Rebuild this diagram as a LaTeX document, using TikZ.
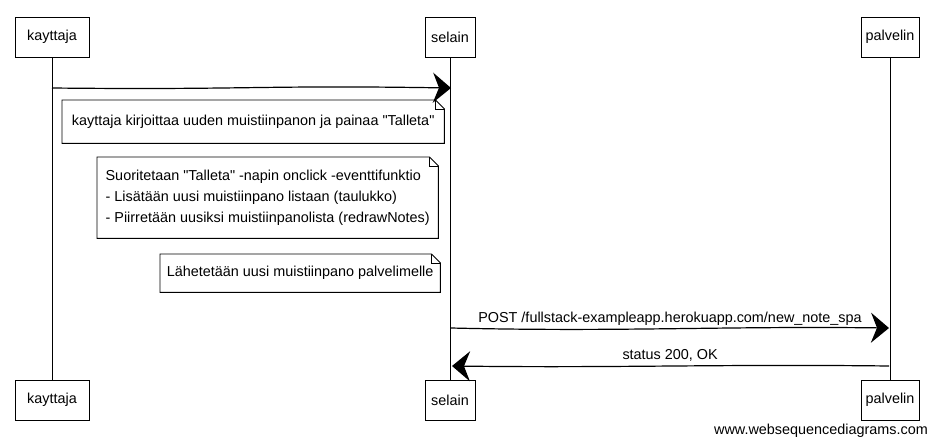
\documentclass[tikz,border=0pt]{standalone}
\usepackage{fontspec}
\setmainfont{Liberation Sans}[Ligatures=TeXOff]
\usetikzlibrary{arrows.meta}
\begin{document}
\begin{tikzpicture}[x=1pt,y=-1pt,
  txt/.style={font=\fontsize{14.4}{21}\selectfont},
  actor/.style={draw, fill=white, line width=0.9pt, minimum height=40pt, inner sep=0pt, txt},
  notebox/.style={inner sep=0pt, align=left, txt},
  life/.style={line width=0.9pt},
  msg/.style={line width=1.2pt, -{Stealth[length=18pt,width=30pt,inset=6pt]}},
  lbl/.style={txt, inner sep=0pt}
]
\useasboundingbox (0,0) rectangle (938,445);
% participants
\node[actor, minimum width=74pt] (k1) at (52,37) {kayttaja};
\node[actor, minimum width=50pt] (s1) at (450,37) {selain};
\node[actor, minimum width=58pt] (p1) at (890,37) {palvelin};
\node[actor, minimum width=74pt] (k2) at (52,400) {kayttaja};
\node[actor, minimum width=50pt] (s2) at (450,400) {selain};
\node[actor, minimum width=58pt] (p2) at (890,400) {palvelin};
% lifelines
\draw[life] (k1.south) -- (k2.north);
\draw[life] (s1.south) -- (s2.north);
\draw[life] (p1.south) -- (p2.north);
% message 1
\coordinate (m1a) at (52,88);
\coordinate (m1b) at (451,88);
\draw[msg] (m1a) .. controls (250,90) and (260,85) .. (m1b);
% notes
\node[notebox, anchor=north west, minimum width=382pt, minimum height=43pt] (n1) at (62,100)
  {kayttaja kirjoittaa uuden muistiinpanon ja painaa "Talleta"};
\node[notebox, anchor=north west, minimum width=341pt, minimum height=81pt] (n2) at (97,157)
  {Suoritetaan "Talleta" -napin onclick -eventtifunktio\\- Lisätään uusi muistiinpano listaan (taulukko)\\- Piirretään uusiksi muistiinpanolista (redrawNotes)};
\node[notebox, anchor=north west, minimum width=280pt, minimum height=38pt] (n3) at (160,254)
  {Lähetetään uusi muistiinpano palvelimelle};
\foreach \n in {n1,n2,n3}{
  \draw[line width=0.9pt] (\n.north west) -- ([xshift=-9pt]\n.north east) -- ([yshift=-9pt]\n.north east) -- (\n.south east) -- (\n.south west) -- cycle;
  \draw[line width=0.7pt] ([xshift=-9pt]\n.north east) -- ([xshift=-9pt,yshift=-9pt]\n.north east) -- ([yshift=-9pt]\n.north east);
}
% messages 2 and 3
\coordinate (m2a) at (451,328);
\coordinate (m2b) at (889,328);
\draw[msg] (m2a) .. controls (620,332) and (720,326) .. node[lbl, above=3pt] (l2) {POST /fullstack-exampleapp.herokuapp.com/new\_note\_spa} (m2b);
\coordinate (m3a) at (889,366);
\coordinate (m3b) at (452,366);
\draw[msg] (m3a) .. controls (720,364) and (620,368) .. node[lbl, above=4pt] (l3) {status 200, OK} (m3b);
% footer
\node[lbl, anchor=east] (foot) at (928,431) {www.websequencediagrams.com};
\end{tikzpicture}
\end{document}
